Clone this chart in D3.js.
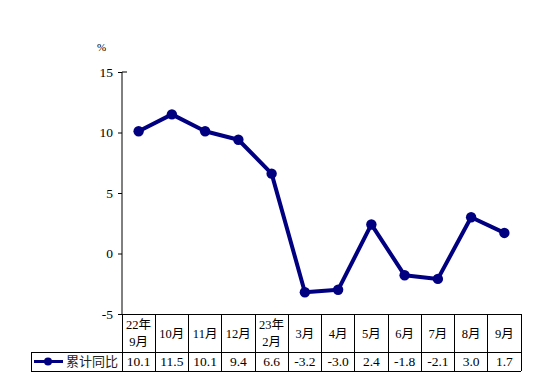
<!DOCTYPE html>
<html>
<head>
<meta charset="utf-8">
<script src="https://cdn.jsdelivr.net/npm/d3@7"></script>
<style>
  body { margin: 0; background: #fff; }
  svg text { font-family: "Liberation Serif", "Times New Roman", "DejaVu Serif", "Noto Sans CJK SC", serif; fill: #000; }
</style>
</head>
<body>
<svg width="554" height="380"></svg>
<script>
var categories = [["22年", "9月"], ["10月"], ["11月"], ["12月"], ["23年", "2月"], ["3月"], ["4月"], ["5月"], ["6月"], ["7月"], ["8月"], ["9月"]];
var values = [10.1, 11.5, 10.1, 9.4, 6.6, -3.2, -3.0, 2.4, -1.8, -2.1, 3.0, 1.7];
var valueLabels = ["10.1", "11.5", "10.1", "9.4", "6.6", "-3.2", "-3.0", "2.4", "-1.8", "-2.1", "3.0", "1.7"];
var yTicks = [-5, 0, 5, 10, 15];
var seriesName = "累计同比";

var svg = d3.select("svg");
var color = "#000080";

var x = d3.scaleBand().domain(d3.range(values.length)).range([122, 521]);
var y = d3.scaleLinear().domain([-5, 15]).range([314, 72]);

// y axis
var yAxis = d3.axisLeft(y).tickValues(yTicks).tickSize(4).tickPadding(5)
  .tickFormat(function(d) { return String(d); });
var ya = svg.append("g").attr("transform", "translate(122,0)").call(yAxis)
  .attr("font-family", null).attr("font-size", null);
ya.select(".domain").remove();
ya.selectAll("text").style("font-size", "13.5px");
ya.selectAll("line").attr("stroke", "#000");
svg.append("line").attr("x1", 122).attr("x2", 122).attr("y1", 72).attr("y2", 314).attr("stroke", "#000");
svg.append("line").attr("x1", 122).attr("x2", 127).attr("y1", y(15)).attr("y2", y(15)).attr("stroke", "#000");

svg.append("text").attr("x", 97).attr("y", 51).style("font-size", "11px").text("%");

// line + markers
var line = d3.line().x(function(d, i) { return x(i) + x.bandwidth() / 2; }).y(function(d) { return y(d); });
svg.append("path").datum(values).attr("d", line)
  .attr("fill", "none").attr("stroke", color).attr("stroke-width", 4).attr("stroke-linejoin", "round");
svg.selectAll(".pt").data(values).enter().append("circle")
  .attr("class", "pt")
  .attr("cx", function(d, i) { return x(i) + x.bandwidth() / 2; })
  .attr("cy", function(d) { return y(d); })
  .attr("r", 5.2).attr("fill", color);

// data table
var rowTop = 314, rowMid = 352, rowBot = 371, tableLeft = 31;
var g = svg.append("g").attr("stroke", "#000").attr("stroke-width", 1).attr("shape-rendering", "crispEdges");
g.append("line").attr("x1", 122).attr("x2", 521).attr("y1", rowTop).attr("y2", rowTop);
g.append("line").attr("x1", tableLeft).attr("x2", 521).attr("y1", rowMid).attr("y2", rowMid);
g.append("line").attr("x1", tableLeft).attr("x2", 521).attr("y1", rowBot).attr("y2", rowBot);
g.append("line").attr("x1", tableLeft).attr("x2", tableLeft).attr("y1", rowMid).attr("y2", rowBot);
d3.range(values.length + 1).forEach(function(i) {
  var xx = i < values.length ? x(i) : x.range()[1];
  g.append("line").attr("x1", xx).attr("x2", xx).attr("y1", rowTop).attr("y2", rowBot);
});

categories.forEach(function(lines, i) {
  var cx = x(i) + x.bandwidth() / 2;
  var t = svg.append("text").attr("text-anchor", "middle").style("font-size", "12.5px");
  if (lines.length === 2) {
    t.append("tspan").attr("x", cx).attr("y", 329).text(lines[0]);
    t.append("tspan").attr("x", cx).attr("y", 346).text(lines[1]);
  } else {
    t.append("tspan").attr("x", cx).attr("y", 338).text(lines[0]);
  }
});
valueLabels.forEach(function(v, i) {
  svg.append("text").attr("x", x(i) + x.bandwidth() / 2).attr("y", 366)
    .attr("text-anchor", "middle").style("font-size", "13.5px").text(v);
});

// legend key
svg.append("line").attr("x1", 34).attr("x2", 63).attr("y1", 361.5).attr("y2", 361.5)
  .attr("stroke", color).attr("stroke-width", 3);
svg.append("circle").attr("cx", 48).attr("cy", 361.5).attr("r", 4).attr("fill", color);
svg.append("text").attr("x", 66).attr("y", 366).style("font-size", "13px")
  .style("font-family", "Noto Sans CJK SC").style("fill", "#222").text(seriesName);
</script>
</body>
</html>
